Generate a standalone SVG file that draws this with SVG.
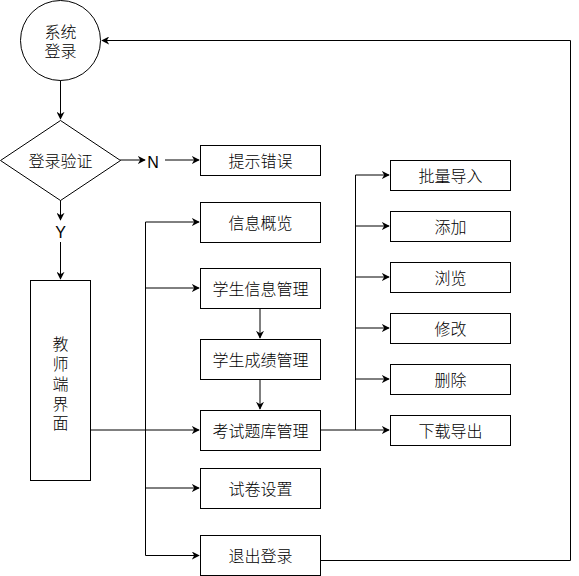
<svg xmlns="http://www.w3.org/2000/svg" width="579" height="576" viewBox="0 0 579 576">
<style>
.n{fill:#fff;stroke:#000;stroke-width:1}
.t{font-family:"Liberation Sans","Noto Sans CJK SC",sans-serif;font-size:16px;font-weight:300;fill:#000;text-anchor:middle;dominant-baseline:central}
.e{fill:none;stroke:#000;stroke-width:1}
.a{marker-end:url(#ar)}
</style>
<defs>
<marker id="ar" viewBox="0 0 10 10" refX="9" refY="5" markerWidth="8" markerHeight="8" markerUnits="userSpaceOnUse" orient="auto">
<path d="M0,0 L10,5 L0,10 L3,5 Z" fill="#000"/>
</marker>
</defs>
<g id="connectors">
<path class="e a" d="M60.5,80 V119"/>
<path class="e a" d="M120,160 H145"/>
<path class="e a" d="M165,160 H199"/>
<path class="e a" d="M60.5,200 V220"/>
<path class="e a" d="M60.5,242 V279"/>
<path class="e a" d="M90,430 H199"/>
<path class="e a" d="M145.5,222 V555.5 H199"/>
<path class="e a" d="M145.5,222 H199"/>
<path class="e a" d="M145.5,288 H199"/>
<path class="e a" d="M145.5,488 H199"/>
<path class="e a" d="M260,308 V338"/>
<path class="e a" d="M260,379 V409"/>
<path class="e a" d="M320,430 H389"/>
<path class="e" d="M355.5,430 V175"/>
<path class="e a" d="M355.5,175 H389"/>
<path class="e a" d="M355.5,226 H389"/>
<path class="e a" d="M355.5,277 H389"/>
<path class="e a" d="M355.5,328 H389"/>
<path class="e a" d="M355.5,379 H389"/>
<path class="e a" d="M320,560.5 H570.5 V40.5 H102"/>
</g>
<g id="login">
<circle class="n" cx="60.5" cy="40.5" r="40"/>
<text class="t" x="60.5" y="32">系统</text>
<text class="t" x="60.5" y="51">登录</text>
</g>
<g id="verify">
<polygon class="n" points="60.5,120.5 120.5,160.5 60.5,200.5 0.5,160.5"/>
<text class="t" x="60.5" y="161">登录验证</text>
</g>
<g id="labelN"><text class="t" x="153" y="162">N</text></g>
<g id="labelY"><text class="t" x="60.5" y="232">Y</text></g>
<g id="error">
<rect class="n" x="200.5" y="145.5" width="120" height="30"/>
<text class="t" x="260.5" y="161">提示错误</text>
</g>
<g id="teacher">
<rect class="n" x="30.5" y="280.5" width="60" height="200"/>
<text class="t" x="60.5" y="344">教</text>
<text class="t" x="60.5" y="364">师</text>
<text class="t" x="60.5" y="384">端</text>
<text class="t" x="60.5" y="404">界</text>
<text class="t" x="60.5" y="423">面</text>
</g>
<g id="overview">
<rect class="n" x="200.5" y="202.5" width="120" height="40"/>
<text class="t" x="260.5" y="223">信息概览</text>
</g>
<g id="stuinfo">
<rect class="n" x="200.5" y="268.5" width="120" height="40"/>
<text class="t" x="260.5" y="289">学生信息管理</text>
</g>
<g id="stuscore">
<rect class="n" x="200.5" y="339.5" width="120" height="40"/>
<text class="t" x="260.5" y="360">学生成绩管理</text>
</g>
<g id="exambank">
<rect class="n" x="200.5" y="410.5" width="120" height="40"/>
<text class="t" x="260.5" y="431">考试题库管理</text>
</g>
<g id="paper">
<rect class="n" x="200.5" y="468.5" width="120" height="40"/>
<text class="t" x="260.5" y="489">试卷设置</text>
</g>
<g id="logout">
<rect class="n" x="200.5" y="535.5" width="120" height="40"/>
<text class="t" x="260.5" y="556">退出登录</text>
</g>
<g id="import">
<rect class="n" x="390.5" y="160.5" width="120" height="30"/>
<text class="t" x="450.5" y="176">批量导入</text>
</g>
<g id="add">
<rect class="n" x="390.5" y="211.5" width="120" height="30"/>
<text class="t" x="450.5" y="227">添加</text>
</g>
<g id="browse">
<rect class="n" x="390.5" y="262.5" width="120" height="30"/>
<text class="t" x="450.5" y="278">浏览</text>
</g>
<g id="modify">
<rect class="n" x="390.5" y="313.5" width="120" height="30"/>
<text class="t" x="450.5" y="329">修改</text>
</g>
<g id="delete">
<rect class="n" x="390.5" y="364.5" width="120" height="30"/>
<text class="t" x="450.5" y="380">删除</text>
</g>
<g id="export">
<rect class="n" x="390.5" y="415.5" width="120" height="30"/>
<text class="t" x="450.5" y="431">下载导出</text>
</g>
</svg>
